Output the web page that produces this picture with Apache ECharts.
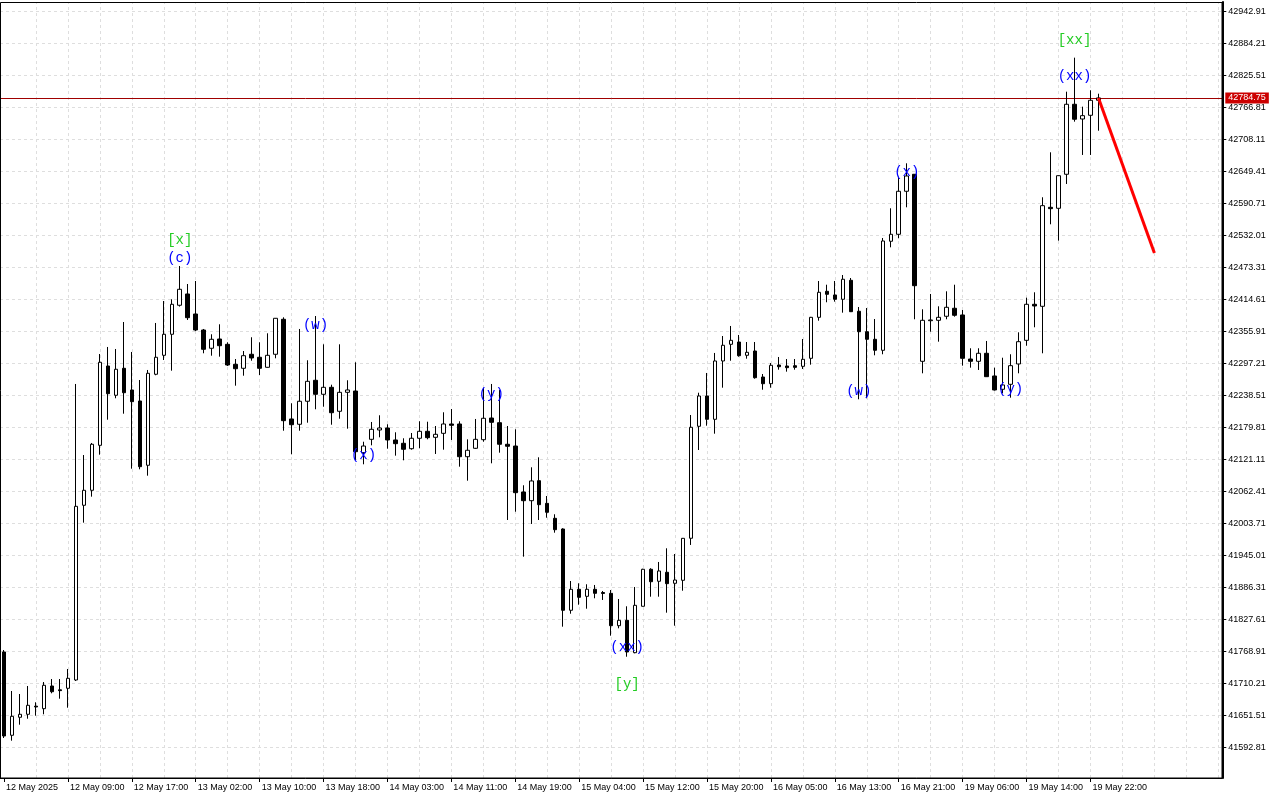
<!DOCTYPE html>
<html>
<head>
<meta charset="utf-8">
<script src="https://cdn.jsdelivr.net/npm/echarts@6/dist/echarts.min.js"></script>
<style>html,body{margin:0;padding:0;background:#fff;}#c{width:1280px;height:800px;}</style>
</head>
<body>
<div id="c"></div>
<script>
// ---- DATA ----
const timeTickLabels = ['12 May 2025','12 May 09:00','12 May 17:00','13 May 02:00','13 May 10:00','13 May 18:00','14 May 03:00','14 May 11:00','14 May 19:00','15 May 04:00','15 May 12:00','15 May 20:00','16 May 05:00','16 May 13:00','16 May 21:00','19 May 06:00','19 May 14:00','19 May 22:00'];
const priceTicks = [42942.91,42884.21,42825.51,42766.81,42708.11,42649.41,42590.71,42532.01,42473.31,42414.61,42355.91,42297.21,42238.51,42179.81,42121.11,42062.41,42003.71,41945.01,41886.31,41827.61,41768.91,41710.21,41651.51,41592.81];

const opens = [41768.4,41615.6,41648.6,41654.1,41669.0,41664.4,41706.0,41699.0,41701.8,41717.0,
42037.5,42065.0,42147.5,42293.0,42239.3,42288.8,42249.0,42228.8,42110.9,42277.8,
42312.6,42351.2,42404.4,42425.1,42388.4,42359.0,42325.5,42342.5,42332.8,42296.1,
42288.8,42314.5,42309.0,42290.6,42314.5,42378.7,42195.8,42186.1,42228.3,42266.8,
42241.1,42253.9,42209.9,42244.7,42247.1,42134.0,42158.5,42175.6,42179.3,42157.3,
42151.2,42141.3,42160.4,42173.2,42162.2,42169.5,42186.6,42186.6,42126.6,42142.0,
42157.8,42197.6,42189.0,42149.4,42146.2,42061.9,42045.9,42082.6,42041.1,42013.6,
41994.0,41844.9,41883.4,41870.5,41883.4,41877.5,41876.0,41816.6,41826.5,41767.1,
41852.2,41920.1,41898.1,41914.6,41894.4,41899.9,41977.0,42182.4,42238.0,42195.2,
42302.2,42332.8,42337.0,42312.6,42320.5,42272.8,42260.5,42294.8,42293.0,42293.5,
42292.4,42307.1,42382.3,42430.0,42423.3,42415.4,42450.2,42393.4,42355.9,42342.0,
42321.8,42521.8,42534.6,42613.5,42644.7,42301.6,42376.1,42376.8,42384.2,42398.9,
42386.6,42305.8,42301.6,42316.3,42274.7,42250.3,42259.4,42296.7,42340.1,42406.2,
42402.5,42584.1,42582.3,42644.7,42773.1,42746.1,42752.9,42780.4];
const highs = [41772.0,41696.8,41691.3,41706.0,41676.1,41713.3,41718.8,41718.8,41737.2,42260.0,
42129.7,42151.8,42315.0,42327.9,42324.2,42373.7,42318.7,42267.3,42285.7,42371.9,
42412.2,42415.4,42476.4,42443.4,42448.9,42360.9,42351.2,42369.5,42336.5,42305.8,
42320.5,42345.7,42336.5,42353.0,42381.0,42382.3,42224.6,42360.9,42303.5,42384.7,
42332.8,42258.7,42332.8,42266.8,42299.8,42154.1,42190.3,42202.6,42186.1,42171.4,
42160.4,42170.1,42191.6,42190.8,42182.9,42208.1,42214.1,42191.6,42158.5,42195.8,
42252.7,42260.0,42249.0,42182.9,42176.9,42074.2,42107.2,42125.5,42054.5,42021.0,
41995.3,41898.6,41894.4,41892.6,41891.3,41880.3,41882.1,41865.6,41852.2,41887.6,
41921.0,41922.0,41933.5,41958.6,41948.1,41977.5,42203.1,42244.0,42280.2,42316.9,
42348.0,42366.4,42349.9,42337.0,42337.0,42278.3,42298.5,42309.5,42305.8,42305.8,
42342.5,42383.0,42448.9,42442.1,42448.9,42459.9,42454.4,42401.2,42399.4,42379.2,
42527.8,42582.3,42640.3,42664.8,42645.0,42397.0,42425.1,42402.5,42430.0,42442.1,
42395.7,42325.5,42325.5,42338.9,42289.9,42308.2,42314.5,42354.8,42418.3,42428.2,
42602.5,42685.0,42642.5,42796.2,42858.6,42768.7,42798.8,42792.5];
const lows = [41610.6,41605.7,41635.0,41646.0,41651.5,41654.1,41692.6,41682.7,41666.2,41715.2,
42005.6,42053.3,42130.3,42194.5,42233.8,42205.5,42104.6,42103.5,42091.8,42276.0,
42304.0,42284.4,42402.0,42377.4,42357.0,42316.3,42311.9,42310.1,42293.0,42256.9,
42275.2,42302.7,42276.5,42290.0,42307.1,42174.3,42131.0,42174.3,42189.0,42213.6,
42218.3,42185.3,42196.3,42178.0,42120.6,42112.7,42147.5,42162.2,42141.3,42128.5,
42120.0,42139.5,42142.0,42158.5,42131.6,42139.5,42157.3,42108.3,42082.6,42141.0,
42154.1,42114.5,42134.0,42010.5,42025.7,41943.2,42003.2,42010.5,42014.7,41987.2,
41814.8,41838.6,41855.1,41847.8,41866.9,41863.8,41798.3,41811.8,41759.7,41766.0,
41852.0,41869.8,41869.8,41840.5,41816.6,41880.8,41964.7,42138.9,42183.5,42168.8,
42253.2,42302.7,42310.0,42306.4,42269.7,42249.5,42253.2,42286.2,42282.6,42286.2,
42287.5,42295.4,42376.1,42409.9,42411.0,42390.8,42392.0,42231.9,42233.8,42312.6,
42314.5,42510.7,42527.3,42584.1,42378.7,42279.6,42355.9,42337.6,42378.7,42383.5,
42293.6,42289.9,42285.7,42273.0,42248.0,42242.9,42234.9,42279.6,42330.2,42364.0,
42316.3,42552.9,42522.9,42626.9,42741.2,42680.1,42680.1,42724.6];
const closes = [41614.3,41650.4,41654.1,41670.6,41667.5,41707.3,41695.5,41697.5,41720.1,42035.6,
42065.0,42149.4,42299.8,42242.2,42287.0,42244.0,42227.5,42108.3,42279.6,42309.0,
42351.2,42406.2,42433.7,42381.6,42359.0,42323.6,42342.0,42330.2,42294.8,42288.0,
42311.9,42307.7,42288.8,42312.6,42380.5,42192.7,42185.3,42228.3,42264.9,42241.1,
42253.9,42207.3,42244.7,42249.0,42135.8,42146.2,42176.9,42179.3,42157.3,42150.5,
42140.2,42160.4,42173.2,42161.5,42167.7,42186.6,42184.2,42126.6,42138.4,42158.5,
42197.1,42189.7,42149.4,42145.7,42060.6,42045.9,42082.1,42038.6,42024.6,41992.7,
41844.9,41883.4,41868.7,41883.4,41876.0,41875.7,41816.6,41826.5,41768.4,41854.0,
41920.1,41897.3,41917.0,41893.7,41900.4,41976.9,42180.6,42238.0,42195.2,42302.2,
42331.0,42340.1,42311.9,42318.1,42271.5,42260.5,42294.3,42291.7,42289.9,42290.5,
42305.3,42382.3,42428.2,42424.5,42415.4,42452.1,42392.6,42355.9,42342.0,42321.8,
42522.3,42534.6,42613.5,42641.5,42440.3,42376.8,42377.4,42382.3,42400.7,42386.0,
42307.1,42301.6,42316.3,42273.4,42249.0,42258.2,42293.6,42337.6,42406.2,42403.1,
42587.1,42581.6,42642.1,42773.1,42745.6,42752.2,42780.4,42784.75];

const currentPrice = 42784.75;
const forecastIdx = [137, 144];
const forecastVals = [42784.75, 42500.3];

const waveTexts = ['[x]','(c)','(w)','(x)','(y)','(xx)','[y]','(w)','(x)','(y)','(xx)','[xx]'];
const waveIdx   = [22, 22, 39, 45, 61, 78, 78, 107, 113, 126, 134, 134];
const waveVals  = [42524.1,42491.1,42367.3,42129.7,42241.6,41776.6,41709.7,42246.6,42648.0,42250.8,42823.7,42891.0];

// ---- BUILD ----
const SLOTS = 153;
const categories = [];
for (let i = 0; i < SLOTS; i++) {
  categories.push(i % 8 === 0 && (i / 8) < timeTickLabels.length ? timeTickLabels[i / 8] : '');
}
const candles = opens.map((o, i) => [o, closes[i], lows[i], highs[i]]);
const vGrid = [];
for (let i = 4; i < SLOTS; i += 4) vGrid.push({ xAxis: i });
const hGrid = priceTicks.map(v => ({ yAxis: v }));

const chart = echarts.init(document.getElementById('c'), null, { renderer: 'canvas' });
chart.setOption({
  backgroundColor: '#ffffff',
  animation: false,
  grid: { left: -1.7, top: 2, width: 1224, height: 776, containLabel: false },
  xAxis: {
    type: 'category',
    data: categories,
    boundaryGap: true,
    axisLine: { show: true, lineStyle: { color: '#000', width: 1 } },
    axisTick: {
      show: true, alignWithLabel: true, length: 4,
      interval: function (i) { return i % 8 === 0 && i / 8 < timeTickLabels.length; },
      lineStyle: { color: '#000' }
    },
    axisLabel: {
      interval: 0, align: 'left', margin: 5, padding: [0, 0, 0, 2],
      color: '#000', fontSize: 9, fontFamily: 'Liberation Sans'
    },
    splitLine: { show: false }
  },
  yAxis: {
    type: 'value',
    position: 'right',
    scale: true,
    min: 41537.23,
    max: 42960.70,
    axisLine: { show: true, lineStyle: { color: '#000', width: 2 } },
    axisTick: { show: true, length: 4, customValues: priceTicks, lineStyle: { color: '#000' } },
    axisLabel: {
      customValues: priceTicks, margin: 6, color: '#000', fontSize: 9, fontFamily: 'Liberation Sans',
      formatter: function (v) { return v.toFixed(2); }
    },
    splitLine: { show: false }
  },
  series: [
    {
      type: 'line', data: [], silent: true, z: 1, zlevel: 0,
      markLine: {
        silent: true, symbol: 'none', animation: false, z: 0,
        label: { show: false },
        lineStyle: { color: '#dedede', type: [3, 3], width: 1 },
        data: vGrid.concat(hGrid)
      }
    },
    {
      type: 'candlestick',
      data: candles,
      barWidth: 4,
      z: 3,
      itemStyle: {
        color: '#ffffff', color0: '#000000',
        borderColor: '#000000', borderColor0: '#000000', borderWidth: 1
      },
      markLine: {
        silent: true, symbol: 'none', animation: false, z: 2,
        lineStyle: { color: '#a00000', type: 'solid', width: 1 },
        label: {
          show: true, position: 'end', distance: 3,
          formatter: function () { return currentPrice.toFixed(2); },
          backgroundColor: '#cc0000', color: '#fff', fontSize: 9, fontFamily: 'Liberation Sans',
          padding: [1, 3, 1, 3]
        },
        data: [{ yAxis: currentPrice }]
      }
    },
    {
      type: 'line', z: 4, silent: true, symbol: 'none',
      data: forecastIdx.map((x, i) => [x, forecastVals[i]]),
      lineStyle: { color: '#ff0000', width: 3 }
    },
    {
      type: 'scatter', z: 6, silent: true, symbolSize: 1,
      itemStyle: { color: 'rgba(0,0,0,0)' },
      emphasis: { disabled: true },
      data: waveTexts.map((t, i) => ({
        value: [waveIdx[i], waveVals[i]],
        label: {
          show: true, position: 'inside', formatter: t, opacity: 1,
          color: t.charAt(0) === '[' ? '#22cc22' : '#0000ff',
          fontSize: 14, fontFamily: 'Liberation Mono'
        }
      }))
    }
  ],
  graphic: [
    {
      type: 'rect', silent: true, z: 100,
      shape: { x: 0.5, y: 2.5, width: 1221.5, height: 775.5 },
      style: { fill: null, stroke: '#000', lineWidth: 1 }
    }
  ]
});
</script>
</body>
</html>
